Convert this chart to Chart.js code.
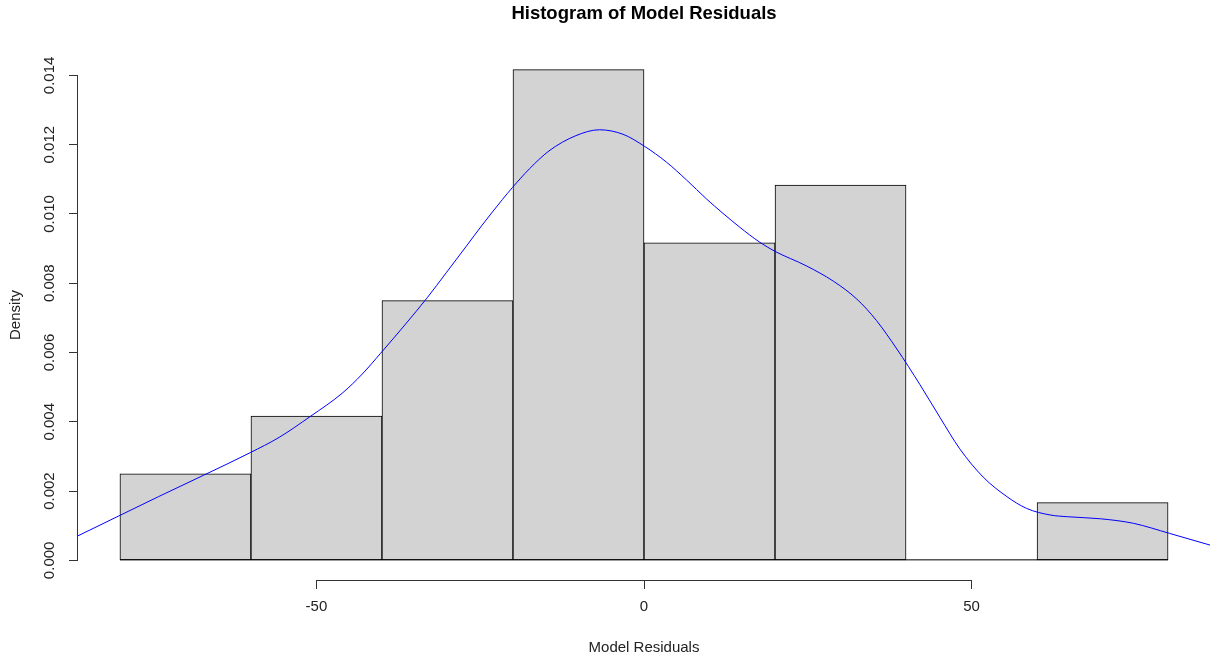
<!DOCTYPE html>
<html><head><meta charset="utf-8">
<script src="https://cdn.jsdelivr.net/npm/chart.js@4.4.1/dist/chart.umd.min.js"></script>
<style>html,body{margin:0;padding:0;background:#fff}#wrap{width:1212px;height:658px;position:relative}</style>
</head><body><div id="wrap"><canvas id="c"></canvas></div>
<script>
const chartTitle = "Histogram of Model Residuals";
const xTitle = "Model Residuals";
const yTitle = "Density";
const binBreaks = [-80, -60, -40, -20, 0, 20, 40, 60, 80];
const binDensity = [0.0025, 0.0041667, 0.0075, 0.0141667, 0.0091667, 0.0108333, 0, 0.0016667];
const xTicks = [-50, 0, 50];
const yTicks = [0, 0.002, 0.004, 0.006, 0.008, 0.010, 0.012, 0.014];
const yTickLabels = ["0.000", "0.002", "0.004", "0.006", "0.008", "0.010", "0.012", "0.014"];
const kdeX = [-86.6,-80.2,-74.1,-67.2,-60.1,-55.7,-50.9,-46.1,-43.0,-40.2,-36.4,-33.1,-30.2,-27.2,-24.7,-21.6,-20.1,-17.5,-14.5,-10.4,-6.8,-3.2,0.1,3.4,6.5,9.5,14.6,17.7,20.0,24.8,28.9,32.5,35.5,38.6,42.1,45.2,48.2,51.8,55.4,58.4,62.0,64.6,69.7,74.7,80.2,86.6];
const kdeY = [0.00069,0.00128,0.00184,0.00246,0.00311,0.00355,0.00416,0.00482,0.00538,0.00598,0.00682,0.00758,0.00830,0.00905,0.00968,0.01042,0.01076,0.01130,0.01182,0.01226,0.01243,0.01230,0.01195,0.01150,0.01098,0.01044,0.00962,0.00918,0.00892,0.00850,0.00806,0.00754,0.00692,0.00610,0.00508,0.00412,0.00322,0.00240,0.00184,0.00150,0.00131,0.00126,0.00120,0.00107,0.00078,0.00043];

const xRange = [-86.4, 86.4];
const yRange = [-0.000567, 0.014733];

const FONT = "'Liberation Sans', Arial, sans-serif";
Chart.defaults.font.family = FONT;

const barData = binDensity.map((d, i) => ({ x: (binBreaks[i] + binBreaks[i + 1]) / 2, y: d }));
const lineData = kdeX.map((x, i) => ({ x: x, y: kdeY[i] }));

const rPlugin = {
  id: 'rdecor',
  afterDatasetsDraw(chart) {
    // baseline of the histogram (zero-height bins show as a line, like R's rect)
    const ctx = chart.ctx;
    const xs = chart.scales.x, ys = chart.scales.y;
    const y0 = ys.getPixelForValue(0) - 0.5;
    ctx.save();
    ctx.strokeStyle = '#000';
    ctx.lineWidth = 1;
    ctx.beginPath();
    ctx.moveTo(xs.getPixelForValue(binBreaks[0]), y0);
    ctx.lineTo(xs.getPixelForValue(binBreaks[binBreaks.length - 1]), y0);
    ctx.stroke();
    ctx.restore();
  },
  afterDraw(chart) {
    const ctx = chart.ctx;
    const xs = chart.scales.x, ys = chart.scales.y;
    const ca = chart.chartArea;
    ctx.save();
    ctx.strokeStyle = '#333';
    ctx.lineWidth = 1;
    const yb = Math.round(ca.bottom) + 0.5;
    ctx.beginPath();
    ctx.moveTo(xs.getPixelForValue(xTicks[0]), yb);
    ctx.lineTo(xs.getPixelForValue(xTicks[xTicks.length - 1]), yb);
    ctx.stroke();
    const xl = Math.round(ca.left) - 0.5;
    ctx.beginPath();
    ctx.moveTo(xl, ys.getPixelForValue(yTicks[0]));
    ctx.lineTo(xl, ys.getPixelForValue(yTicks[yTicks.length - 1]));
    ctx.stroke();
    const cx = (ca.left + ca.right) / 2;
    const cy = (ca.top + ca.bottom) / 2;
    ctx.fillStyle = '#000';
    ctx.textAlign = 'center';
    ctx.textBaseline = 'alphabetic';
    ctx.font = "bold 18.5px " + FONT;
    ctx.fillText(chartTitle, cx, 19);
    ctx.fillStyle = '#222';
    ctx.font = "15px " + FONT;
    ctx.fillText(xTitle, cx, 652);
    ctx.translate(20, cy);
    ctx.rotate(-Math.PI / 2);
    ctx.fillText(yTitle, 0, 0);
    ctx.restore();
  }
};

new Chart(document.getElementById('c'), {
  data: {
    datasets: [
      {
        type: 'line', data: lineData, borderColor: '#0000FF', borderWidth: 1,
        pointRadius: 0, cubicInterpolationMode: 'monotone', order: 0, fill: false
      },
      {
        type: 'bar', data: barData, backgroundColor: '#D3D3D3', borderColor: '#000',
        borderWidth: 1, borderSkipped: false, barPercentage: 1, categoryPercentage: 1,
        order: 1
      }
    ]
  },
  options: {
    responsive: true, maintainAspectRatio: false, animation: false,
    layout: { padding: { left: 0, right: 2, top: 50, bottom: 0 } },
    plugins: { legend: { display: false }, tooltip: { enabled: false }, title: { display: false } },
    scales: {
      x: {
        type: 'linear', min: xRange[0], max: xRange[1], offset: false,
        afterBuildTicks: (s) => { s.ticks = xTicks.map(v => ({ value: v })); },
        afterFit: (s) => { s.height = 78; },
        border: { display: false },
        grid: { drawOnChartArea: false, drawTicks: true, tickLength: 9, color: '#333', offset: false },
        ticks: { color: '#222', font: { size: 15 }, padding: 9, maxRotation: 0, autoSkip: false,
          callback: (v) => String(v) }
      },
      y: {
        type: 'linear', min: yRange[0], max: yRange[1],
        afterBuildTicks: (s) => { s.ticks = yTicks.map(v => ({ value: v })); },
        afterFit: (s) => { s.width = 78; },
        border: { display: false },
        grid: { drawOnChartArea: false, drawTicks: true, tickLength: 9, color: '#333' },
        ticks: { color: '#222', font: { size: 15 }, padding: 0, minRotation: 90, maxRotation: 90,
          crossAlign: 'center', autoSkip: false,
          callback: (v, i) => yTickLabels[i] }
      }
    }
  },
  plugins: [rPlugin]
});
</script>
</body></html>
